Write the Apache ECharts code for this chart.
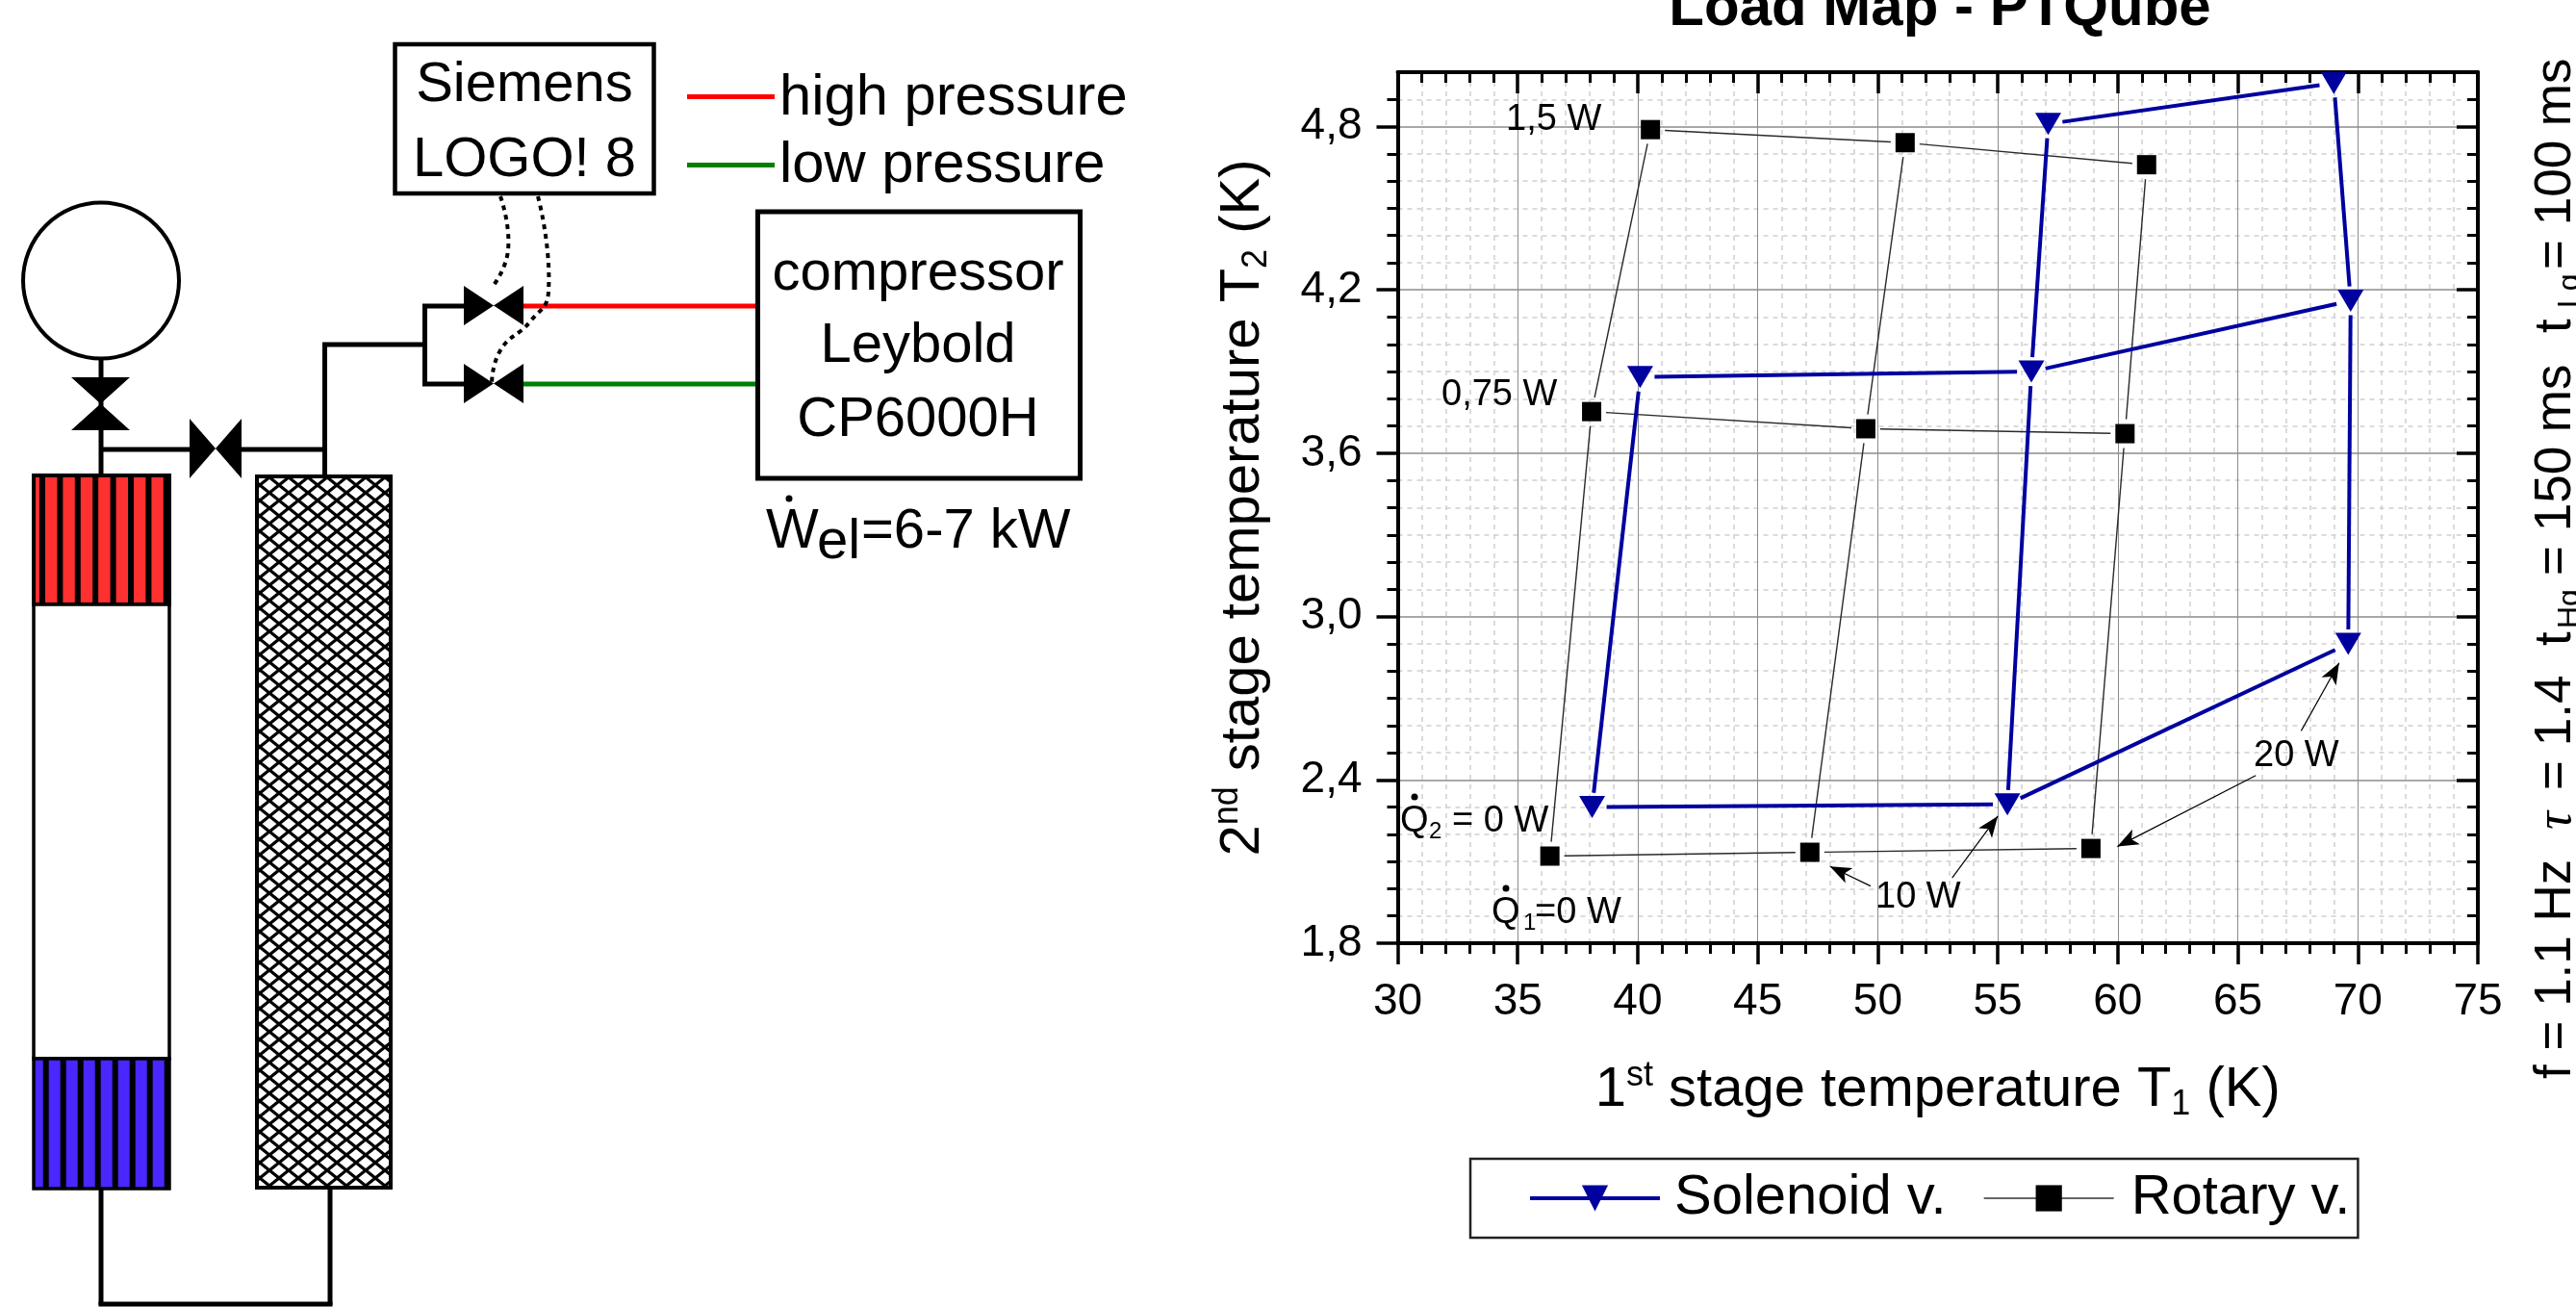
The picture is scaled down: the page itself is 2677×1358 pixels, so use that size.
<!DOCTYPE html>
<html>
<head>
<meta charset="utf-8">
<style>html,body{margin:0;padding:0;background:#fff;overflow:hidden}#c{width:2677px;height:1358px}</style>
<script src="https://cdn.jsdelivr.net/npm/echarts@6/dist/echarts.min.js"></script>
</head>
<body>
<div id="c"></div>
<script>
// ---------- data ----------
const solenoidT1 = [38.1, 55.4, 69.6, 40.1, 56.4, 69.7, 57.1, 69.0];
const solenoidT2 = [2.30, 2.31, 2.90, 3.88, 3.90, 4.16, 4.81, 4.96];
const solenoidPaths = [[0,1,2],[3,4,5],[6,7],[0,3],[1,4,6],[2,5,7]];
const rotaryT1 = [36.34, 47.17, 58.88, 38.08, 49.5, 60.3, 40.53, 51.14, 61.2];
const rotaryT2 = [2.12, 2.134, 2.148, 3.753, 3.69, 3.672, 4.789, 4.741, 4.66];
const rotaryPaths = [[0,1,2],[3,4,5],[6,7,8],[0,3,6],[1,4,7],[2,5,8]];
const arrowLines = [
  [[49.7,2.01],[48.01,2.082]],
  [[53.1,2.04],[55.0,2.267]],
  [[65.75,2.416],[59.98,2.155]],
  [[67.64,2.58],[69.22,2.83]]
];
const chartTitle = 'Load Map - PTQube';
const seriesNames = ['Solenoid v.', 'Rotary v.'];
const FONT = '"Liberation Sans", Arial, sans-serif';

function points(xs, ys) { return xs.map((x, i) => [x, ys[i]]); }
function links(xs, ys, paths) {
  const out = [];
  paths.forEach(p => {
    for (let k = 1; k < p.length; k++) out.push([xs[p[k-1]], ys[p[k-1]], xs[p[k]], ys[p[k]]]);
  });
  return out;
}
// connecting line between two points, stopped short of the markers
function linkRenderer(gap, color, width) {
  return function (params, api) {
    const a = api.coord([api.value(0), api.value(1)]);
    const b = api.coord([api.value(2), api.value(3)]);
    const dx = b[0]-a[0], dy = b[1]-a[1], len = Math.sqrt(dx*dx+dy*dy) || 1;
    const ux = dx/len, uy = dy/len;
    return {type:'line', silent:true,
      shape:{x1:a[0]+ux*gap, y1:a[1]+uy*gap, x2:b[0]-ux*gap, y2:b[1]-uy*gap},
      style:{stroke:color, lineWidth:width, fill:null}};
  };
}

// ---------- drawing helpers for the schematic and annotations ----------
const els = [];
function text(str, x, base, size, o) {
  o = o || {};
  els.push({type:'text', x:x, y:base - 0.30*size, z:20, silent:true,
    style:{text:str, font:(o.font||'')+' '+size+'px '+(o.family||FONT), fill:'#000',
           align:o.align||'left', verticalAlign:'middle'}});
}
function vtext(str, baseX, startY, size, o) {
  o = o || {};
  els.push({type:'text', x:baseX - 0.30*size, y:startY, rotation:Math.PI/2, z:20, silent:true,
    style:{text:str, font:(o.font||'')+' '+size+'px '+(o.family||FONT), fill:'#000',
           align:'left', verticalAlign:'middle'}});
}
function line(x1,y1,x2,y2,c,w) {
  els.push({type:'line', z:5, silent:true, shape:{x1,y1,x2,y2}, style:{stroke:c||'#000', lineWidth:w||5}});
}
function rect(x,y,w,h,fill,stroke,lw) {
  els.push({type:'rect', z:6, silent:true, shape:{x,y,width:w,height:h},
    style:{fill:fill||'none', stroke:stroke||null, lineWidth:lw||0}});
}
function poly(pts) {
  els.push({type:'polygon', z:7, silent:true, shape:{points:pts}, style:{fill:'#000'}});
}
function dot(x,y,r) {
  els.push({type:'circle', z:20, silent:true, shape:{cx:x,cy:y,r:r}, style:{fill:'#000'}});
}
function dotted(pts) {
  els.push({type:'polyline', z:8, silent:true, shape:{points:pts, smooth:0.5},
    style:{stroke:'#000', lineWidth:4, lineDash:[5,5], fill:null}});
}

// cross hatch pattern for the regenerator
const pat = document.createElement('canvas');
pat.width = 20; pat.height = 16;
(function(){
  const g = pat.getContext('2d');
  g.fillStyle = '#fff'; g.fillRect(0,0,20,16);
  g.strokeStyle = '#000'; g.lineWidth = 3.3;
  g.beginPath();
  g.moveTo(-10,-8); g.lineTo(30,24);
  g.moveTo(30,-8); g.lineTo(-10,24);
  g.moveTo(-10,8); g.lineTo(10,24);
  g.moveTo(10,-8); g.lineTo(30,8);
  g.moveTo(30,8); g.lineTo(10,24);
  g.moveTo(10,-8); g.lineTo(-10,8);
  g.stroke();
})();

// pipes
line(105,373,105,494);
line(105,467,197,467);
line(251,467,338,467);
line(337.5,358,337.5,494);
line(335,358,442,358);
line(441.5,316,441.5,401);
line(439,318,482,318);
line(439,399,482,399);
line(544,318,786,318,'#ff0000',5);
line(544,399,786,399,'#008000',5);
line(105,1234,105,1356);
line(102.5,1355,345.5,1355);
line(343,1234,343,1356);
// reservoir
els.push({type:'circle', z:6, silent:true, shape:{cx:105,cy:291.5,r:81}, style:{fill:'#fff',stroke:'#000',lineWidth:4}});
// valves
poly([[74,392],[135,392],[74,447],[135,447]]);
poly([[197,435],[197,497],[251,435],[251,497]]);
poly([[482,297],[482,338],[544,297],[544,338]]);
poly([[482,378],[482,419],[544,378],[544,419]]);
// pulse tube
rect(35,494,141,134,'#ff3030');
for (let i=0;i<8;i++) rect(41+18.4*i,494,6,134,'#000');
rect(35,494,141,134,null,'#000',4);
rect(35,628,141,472,'#fff','#000',3.5);
rect(35,1100,141,135,'#4a26ff');
for (let i=0;i<8;i++) rect(44.7+18*i,1100,6,135,'#000');
rect(35,1100,141,135,null,'#000',3.5);
// regenerator
els.push({type:'rect', z:6, silent:true, shape:{x:267,y:495,width:139,height:739},
  style:{fill:{image:pat, repeat:'repeat'}, stroke:'#000', lineWidth:4}});
// boxes
rect(410.5,46,269,155,'#fff','#000',4.5);
text('Siemens',545,106,58,{align:'center'});
text('LOGO! 8',545,184,58,{align:'center'});
rect(787.5,220,335,277,'#fff','#000',5);
text('compressor',954,302,58,{align:'center'});
text('Leybold',954,377,58,{align:'center'});
text('CP6000H',954,454,58,{align:'center'});
// pressure key
line(714,100.5,805,100.5,'#ff0000',5);
line(714,171.5,805,171.5,'#008000',5);
text('high pressure',810,120,59.7);
text('low pressure',810,190,59.7);
// controller wiring
dotted([[520,204],[528,260],[511,299]]);
dotted([[559,204],[570,303],[551,334],[520,364],[511,399]]);
// power label
text('W',796,570,58);
dot(820,518,3.5);
text('el',849,581,58);
text('=6-7 kW',895,570,58);
// load annotations
text('1,5 W',1565,136,38);
text('0,75 W',1498,422,38);
text('Q',1455,865,38);
dot(1470,828,3.5);
text('2',1485,872,24);
text('= 0 W',1509,865,38);
text('Q',1550,960,38);
dot(1565,923,3.5);
text('1',1583,967,24);
text('=0 W',1595,960,38);
text('10 W',1949,944,38);
text('20 W',2342,797,38);
// operating parameters (rotated)
vtext('f = 1.1 Hz',2672.7,1121,53);
vtext('τ',2672.7,862,53,{font:'italic',family:'"Liberation Serif", serif'});
vtext('= 1.4',2672.7,821,53);
vtext('t',2672.7,671,53);
vtext('Hg',2681,653,32);
vtext('= 150 ms',2672.7,598,53);
vtext('t',2672.7,346,53);
vtext('Lg',2681,320,32);
vtext('= 100 ms',2672.7,280,53);

// ---------- chart ----------
const chart = echarts.init(document.getElementById('c'), null, {renderer:'canvas'});
const xMin = 30, xMax = 75, xStep = 5, yMin = 1.8, yMax = 5.0, yStep = 0.6;
const yTicks = [1.8, 2.4, 3.0, 3.6, 4.2, 4.8];
const tickFmt = v => Number(v).toFixed(1).replace('.', ',');
const triPath = 'path://M0,0 L27,0 L13.5,23 Z';
const BLUE = '#00009f';

const nameRich = {
  sup:{fontSize:36, fontFamily:FONT, verticalAlign:'top', lineHeight:66, color:'#000'},
  sub:{fontSize:36, fontFamily:FONT, verticalAlign:'bottom', lineHeight:66, color:'#000'}
};
const baseX = {type:'value', min:xMin, max:xMax, interval:xStep};
const baseY = {type:'value', min:yMin, max:yMax, interval:yStep};
const axLine = {show:true, onZero:false, lineStyle:{color:'#000', width:4}};

chart.setOption({
  animation:false,
  backgroundColor:'#fff',
  title:{text:chartTitle, left:2016, top:-21, textAlign:'center', padding:0,
    textStyle:{fontFamily:FONT, fontSize:60, fontWeight:'bold', color:'#000'}},
  grid:{left:1452.5, top:75, width:1122.5, height:905, containLabel:false},
  legend:{
    left:1528, top:1204, orient:'horizontal', padding:[12,8,12,60],
    itemWidth:135, itemHeight:34, itemGap:38,
    borderColor:'#222', borderWidth:2.5, backgroundColor:'#fff',
    textStyle:{fontFamily:FONT, fontSize:58, color:'#000', padding:[4,0,0,10]},
    data:[
      {name:seriesNames[0], lineStyle:{color:BLUE, width:4, opacity:1}},
      {name:seriesNames[1], lineStyle:{color:'#666', width:2, opacity:1},
       textStyle:{fontFamily:FONT, fontSize:58, color:'#000', padding:[4,0,0,13]}}
    ]
  },
  xAxis:[
    Object.assign({}, baseX, {
      position:'bottom',
      name:'1{sup|st} stage temperature T{sub|1} (K)', nameLocation:'middle', nameGap:120,
      nameTextStyle:{fontFamily:FONT, fontSize:58, color:'#000', rich:nameRich},
      axisLine:axLine,
      axisTick:{show:true, length:22, lineStyle:{color:'#000', width:3.5}},
      minorTick:{show:true, splitNumber:5, length:11, lineStyle:{color:'#000', width:3}},
      axisLabel:{fontFamily:FONT, fontSize:46, color:'#000', margin:38},
      splitLine:{show:true, lineStyle:{color:'#8c8c8c', width:1}},
      minorSplitLine:{show:true, lineStyle:{color:'#cfcfcf', width:1.5, type:[5,5]}}
    }),
    Object.assign({}, baseX, {
      position:'top',
      axisLine:axLine,
      axisTick:{show:true, inside:true, length:22, lineStyle:{color:'#000', width:3.5}},
      minorTick:{show:true, splitNumber:5, length:11, lineStyle:{color:'#000', width:3}},
      axisLabel:{show:false}, splitLine:{show:false}, minorSplitLine:{show:false}
    })
  ],
  yAxis:[
    Object.assign({}, baseY, {
      position:'left',
      name:'2{sup|nd} stage temperature T{sub|2} (K)', nameLocation:'middle', nameRotate:90, nameGap:128,
      nameTextStyle:{fontFamily:FONT, fontSize:58, color:'#000', rich:nameRich},
      axisLine:axLine,
      axisTick:{show:true, length:22, customValues:yTicks, lineStyle:{color:'#000', width:3.5}},
      minorTick:{show:true, splitNumber:6, length:11, lineStyle:{color:'#000', width:3}},
      axisLabel:{fontFamily:FONT, fontSize:46, color:'#000', margin:37, customValues:yTicks, formatter:tickFmt},
      splitLine:{show:true, lineStyle:{color:'#a8a8a8', width:2}},
      minorSplitLine:{show:true, lineStyle:{color:'#cfcfcf', width:1.5, type:[5,5]}}
    }),
    Object.assign({}, baseY, {
      position:'right',
      axisLine:axLine,
      axisTick:{show:true, inside:true, length:22, customValues:yTicks, lineStyle:{color:'#000', width:3.5}},
      minorTick:{show:true, splitNumber:6, length:11, lineStyle:{color:'#000', width:3}},
      axisLabel:{show:false}, splitLine:{show:false}, minorSplitLine:{show:false}
    })
  ],
  series:[
    {
      name:seriesNames[1]+' links', type:'custom', coordinateSystem:'cartesian2d', z:2, clip:false,
      data:links(rotaryT1, rotaryT2, rotaryPaths),
      encode:{x:[0,2], y:[1,3]},
      renderItem:linkRenderer(15, '#2a2a2a', 1.4),
      markLine:{silent:true, animation:false, symbol:['none','arrow'], symbolSize:[13,22], precision:4,
        label:{show:false}, lineStyle:{color:'#000', width:1.2, type:'solid'},
        data:arrowLines.map(a => [{coord:a[0]},{coord:a[1]}])}
    },
    {
      name:seriesNames[0]+' links', type:'custom', coordinateSystem:'cartesian2d', z:3, clip:false,
      data:links(solenoidT1, solenoidT2, solenoidPaths),
      encode:{x:[0,2], y:[1,3]},
      renderItem:linkRenderer(15, BLUE, 4)
    },
    {
      name:seriesNames[1], type:'line', z:4, clip:false,
      data:points(rotaryT1, rotaryT2),
      symbol:'rect', symbolSize:20,
      lineStyle:{color:'#666', width:2, opacity:0},
      itemStyle:{color:'#000', opacity:1}
    },
    {
      name:seriesNames[0], type:'line', z:5, clip:false,
      data:points(solenoidT1, solenoidT2),
      symbol:triPath, symbolSize:[27,23], symbolKeepAspect:false,
      lineStyle:{color:BLUE, width:4, opacity:0},
      itemStyle:{color:BLUE, opacity:1}
    }
  ],
  graphic:{elements:els}
});
</script>
</body>
</html>
